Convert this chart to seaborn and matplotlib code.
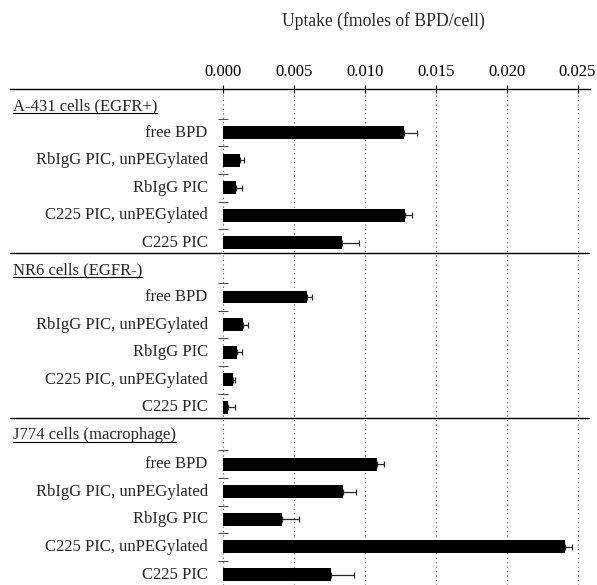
import numpy as np
import pandas as pd
import matplotlib
matplotlib.use('Agg')
import matplotlib.pyplot as plt
import seaborn as sns

sns.set_theme(style="white")
plt.rcParams['font.family'] = ['Liberation Serif', 'DejaVu Serif']
plt.rcParams['font.size'] = 12

# dados
cells = ['A-431 cells (EGFR+)', 'NR6 cells (EGFR-)', 'J774 cells (macrophage)']
treatments = ['free BPD', 'RbIgG PIC, unPEGylated', 'RbIgG PIC',
              'C225 PIC, unPEGylated', 'C225 PIC']
uptake_a431 = [0.01276, 0.00120, 0.00092, 0.01286, 0.00840]
err_a431 = [0.00095, 0.00028, 0.00042, 0.00050, 0.00120]
uptake_nr6 = [0.00590, 0.00140, 0.00096, 0.00073, 0.00037]
err_nr6 = [0.00040, 0.00038, 0.00036, 0.00010, 0.00045]
uptake_j774 = [0.01084, 0.00849, 0.00416, 0.02412, 0.00764]
err_j774 = [0.00051, 0.00091, 0.00118, 0.00051, 0.00162]
ticks = [0.000, 0.005, 0.010, 0.015, 0.020, 0.025]

# layout em unidades de linha
section_h = 5.96
first_row = 1.58
offsets = [0.0, 0.0, 0.1]

rows = []
for k, (cell, vals, errs) in enumerate(zip(cells,
                                           [uptake_a431, uptake_nr6, uptake_j774],
                                           [err_a431, err_nr6, err_j774])):
    for i, (t, v, e) in enumerate(zip(treatments, vals, errs)):
        rows.append({'cell': cell, 'treatment': t, 'uptake': v, 'err': e,
                     'pos': k * section_h + first_row + offsets[k] + i})
df = pd.DataFrame(rows)

fig = plt.figure(figsize=(5.97, 5.85), dpi=100)
ax = fig.add_axes([10 / 597, 0, 580 / 597, 496 / 585])

sns.barplot(data=df, x='uptake', y='pos', orient='y', native_scale=True,
            color='black', width=0.47, errorbar=None, linewidth=0, ax=ax)
ax.errorbar(df['uptake'], df['pos'], xerr=[np.zeros(len(df)), df['err']],
            fmt='none', ecolor='0.15', elinewidth=0.9, capsize=2.5, capthick=0.9)

# pequenos traços acima das barras
ax.plot(np.zeros(len(df)), df['pos'] - 0.5, marker='_', ls='none',
        color='0.3', markersize=7, markeredgewidth=0.8)

ax.set_xlim(-0.01502, 0.02588)
ax.set_ylim(3 * section_h + 0.1, 0)
ax.set_xticks(ticks)
ax.set_xticklabels([f'{t:.3f}' for t in ticks])
ax.xaxis.tick_top()
ax.tick_params(axis='x', direction='inout', length=6, width=0.8, pad=3.5,
               labelsize=12, colors='black', top=True, bottom=False)
ax.set_yticks([])
ax.set_xlabel('')
ax.set_ylabel('')
for s in ['left', 'right', 'bottom']:
    ax.spines[s].set_visible(False)
ax.spines['top'].set_color('black')
ax.spines['top'].set_linewidth(1.0)

for t in ticks:
    ax.axvline(t, color='0.35', ls=(0, (1, 3)), lw=0.8, zorder=0)

for k in range(1, 3):
    ax.axhline(k * section_h, color='black', lw=1.0)

for _, r in df.iterrows():
    ax.text(-0.00108, r['pos'], r['treatment'], ha='right', va='center', fontsize=12)

headers = []
for k, cell in enumerate(cells):
    h = ax.text(0.005, k * section_h + 0.62, cell, ha='left', va='center',
                fontsize=12, transform=ax.get_yaxis_transform())
    headers.append(h)

fig.text(383 / 597, 1 - 21 / 585, 'Uptake (fmoles of BPD/cell)',
         ha='center', va='center', fontsize=12.7)

# sublinhado dos títulos das seções
fig.canvas.draw()
renderer = fig.canvas.get_renderer()
inv = fig.transFigure.inverted()
for h in headers:
    bb = h.get_window_extent(renderer)
    (x0, y0), (x1, y1) = inv.transform([[bb.x0, bb.y0], [bb.x1, bb.y1]])
    fig.add_artist(plt.Line2D([x0, x1], [y0 + 0.002, y0 + 0.002],
                              color='black', lw=0.8, transform=fig.transFigure))

fig.savefig('out.png', dpi=100)
